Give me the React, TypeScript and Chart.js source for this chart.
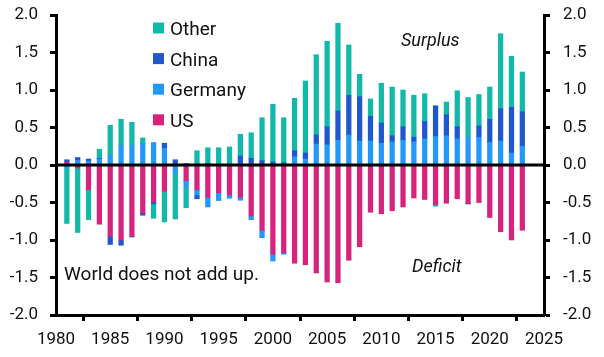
import React, { useEffect, useRef } from "react";
import { Chart, registerables } from "chart.js";

Chart.register(...registerables);

const years = [
  1981, 1982, 1983, 1984, 1985, 1986, 1987, 1988, 1989, 1990,
  1991, 1992, 1993, 1994, 1995, 1996, 1997, 1998, 1999, 2000,
  2001, 2002, 2003, 2004, 2005, 2006, 2007, 2008, 2009, 2010,
  2011, 2012, 2013, 2014, 2015, 2016, 2017, 2018, 2019, 2020,
  2021, 2022, 2023,
];

const usValues = [
  0.04, -0.04, -0.33, -0.79, -0.95, -1.0, -0.95, -0.64, -0.49, -0.35,
  0.0, -0.21, -0.33, -0.43, -0.37, -0.4, -0.43, -0.68, -0.87, -1.19,
  -1.17, -1.31, -1.33, -1.44, -1.56, -1.57, -1.27, -1.09, -0.63, -0.65,
  -0.61, -0.56, -0.44, -0.46, -0.53, -0.51, -0.45, -0.51, -0.5, -0.7,
  -0.89, -1.0, -0.87,
];

const germanyValues = [
  -0.04, 0.06, 0.05, 0.08, 0.13, 0.26, 0.26, 0.29, 0.3, 0.22,
  -0.11, -0.09, -0.07, -0.13, -0.1, -0.04, -0.04, -0.05, -0.1, -0.09,
  -0.02, 0.11, 0.08, 0.28, 0.27, 0.33, 0.4, 0.32, 0.32, 0.29,
  0.31, 0.33, 0.31, 0.35, 0.38, 0.39, 0.35, 0.37, 0.37, 0.3,
  0.32, 0.16, 0.25,
];

const chinaValues = [
  0.03, 0.04, 0.03, 0.01, -0.11, -0.07, -0.01, -0.03, -0.03, 0.07,
  0.07, 0.02, -0.05, 0.02, 0.0, 0.0, 0.12, 0.09, 0.06, 0.04,
  0.03, 0.08, 0.08, 0.12, 0.24, 0.39, 0.53, 0.59, 0.33, 0.27,
  0.08, 0.18, 0.06, 0.23, 0.41, 0.28, 0.16, -0.01, 0.15, 0.31,
  0.43, 0.61, 0.46,
];

const otherValues = [
  -0.74, -0.86, -0.4, 0.12, 0.4, 0.35, 0.31, 0.07, -0.19, -0.41,
  -0.61, -0.27, 0.19, 0.21, 0.23, 0.24, 0.29, 0.34, 0.57, 0.77,
  0.6, 0.7, 0.96, 1.07, 1.14, 1.17, 0.67, 0.3, 0.23, 0.53,
  0.65, 0.49, 0.56, 0.37, -0.02, 0.17, 0.48, 0.53, 0.42, 0.43,
  1.0, 0.68, 0.53,
];

const seriesNames = ["US", "Germany", "China", "Other"];
const seriesColors = ["#D6237E", "#2398FB", "#2157CE", "#12B9A8"];
const yTicks = [-2.0, -1.5, -1.0, -0.5, 0.0, 0.5, 1.0, 1.5, 2.0];
const xTickLabels = [1980, 1985, 1990, 1995, 2000, 2005, 2010, 2015, 2020, 2025];
const legendOrder = ["Other", "China", "Germany", "US"];
const annotations = {
  surplus: "Surplus",
  deficit: "Deficit",
  note: "World does not add up.",
};

const FONT = "Roboto";

const overlayPlugin = {
  id: "overlay",
  afterDatasetsDraw(chart: any) {
    const { ctx, chartArea, scales } = chart;
    const y0 = scales.y.getPixelForValue(0);
    ctx.save();
    ctx.strokeStyle = "#000";
    ctx.lineWidth = 3;
    ctx.beginPath();
    ctx.moveTo(chartArea.left, y0);
    ctx.lineTo(chartArea.right, y0);
    ctx.stroke();
    ctx.restore();
  },
  afterDraw(chart: any) {
    const { ctx } = chart;
    ctx.save();
    const lx = 153;
    const ly0 = 28;
    const step = 30.6;
    ctx.font = `19px ${FONT}`;
    ctx.textBaseline = "alphabetic";
    ctx.textAlign = "left";
    legendOrder.forEach((name, i) => {
      const idx = seriesNames.indexOf(name);
      const cy = ly0 + i * step;
      ctx.fillStyle = seriesColors[idx];
      ctx.fillRect(lx, cy - 5.5, 11, 11);
      ctx.fillStyle = "#111";
      ctx.fillText(name, lx + 17, cy + 7);
    });
    ctx.font = `italic 18px ${FONT}`;
    ctx.fillStyle = "#111";
    ctx.fillText(annotations.surplus, 401, 46);
    ctx.fillText(annotations.deficit, 412, 272);
    ctx.font = `19px ${FONT}`;
    ctx.fillText(annotations.note, 64, 280);
    ctx.restore();
  },
};

export default function App() {
  const ref = useRef<HTMLCanvasElement | null>(null);
  useEffect(() => {
    if (!ref.current) return;
    const valueSets = [usValues, germanyValues, chinaValues, otherValues];
    const datasets = seriesNames.map((name, i) => ({
      label: name,
      data: years.map((yr, j) => ({ x: yr, y: valueSets[i][j] })),
      backgroundColor: seriesColors[i],
      borderWidth: 0,
      barThickness: 4.6,
      yAxisID: "y",
    }));
    const axisGrid = {
      display: true,
      drawOnChartArea: false,
      drawTicks: true,
      tickLength: 6,
      tickWidth: 3,
      tickColor: "#000",
    };
    const axisBorder = { display: true, width: 3, color: "#000" };
    const tickFont = { family: FONT, size: 17 };
    const zeroPad = (s: any) => {
      s.paddingTop = 0;
      s.paddingBottom = 0;
      s.paddingLeft = 0;
      s.paddingRight = 0;
    };
    const chart = new Chart(ref.current, {
      type: "bar",
      data: { datasets },
      plugins: [overlayPlugin],
      options: {
        animation: false,
        responsive: false,
        devicePixelRatio: 1,
        layout: { padding: { top: 15, left: 0, right: 0, bottom: 0 } },
        plugins: { legend: { display: false }, tooltip: { enabled: false } },
        scales: {
          x: {
            type: "linear",
            stacked: true,
            min: 1980,
            max: 2025,
            offset: false,
            afterBuildTicks: (s: any) => {
              s.ticks = xTickLabels.map((v) => ({ value: v }));
            },
            afterFit: (s: any) => {
              s.height = 42;
              zeroPad(s);
            },
            ticks: {
              color: "#111",
              font: tickFont,
              padding: 9,
              maxRotation: 0,
              autoSkip: false,
              callback: (v: any) => String(v),
            },
            grid: axisGrid,
            border: axisBorder,
          },
          y: {
            type: "linear",
            position: "left",
            stacked: true,
            min: -2,
            max: 2,
            afterBuildTicks: (s: any) => {
              s.ticks = yTicks.map((v) => ({ value: v }));
            },
            afterFit: (s: any) => {
              s.width = 56;
              zeroPad(s);
            },
            ticks: {
              color: "#111",
              font: tickFont,
              padding: 12,
              callback: (v: any) => Number(v).toFixed(1),
            },
            grid: axisGrid,
            border: axisBorder,
          },
          y2: {
            type: "linear",
            position: "right",
            min: -2,
            max: 2,
            afterBuildTicks: (s: any) => {
              s.ticks = yTicks.map((v) => ({ value: v }));
            },
            afterFit: (s: any) => {
              s.width = 60;
              zeroPad(s);
            },
            ticks: {
              color: "#111",
              font: tickFont,
              padding: 13,
              callback: (v: any) => Number(v).toFixed(1),
            },
            grid: axisGrid,
            border: axisBorder,
          },
        },
      } as any,
    });
    return () => chart.destroy();
  }, []);
  return (
    <div style={{ position: "fixed", left: 0, top: 0, width: 604, height: 357, background: "#fff" }}>
      <canvas ref={ref} width={604} height={357} style={{ display: "block", width: 604, height: 357 }} />
    </div>
  );
}
